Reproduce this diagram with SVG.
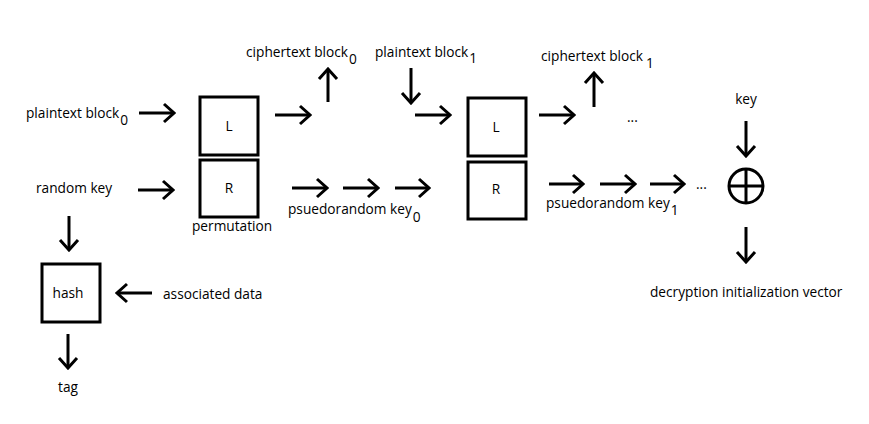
<svg xmlns="http://www.w3.org/2000/svg" width="869" height="424" viewBox="0 0 869 424">
<style>
text{font-family:"Open Sans","Noto Sans","DejaVu Sans",sans-serif;font-size:13.7px;fill:#000}
.box{fill:none;stroke:#000;stroke-width:3}
.ar{fill:none;stroke:#000;stroke-width:3;marker-end:url(#h)}
</style>
<defs>
<marker id="h" markerUnits="userSpaceOnUse" viewBox="0 0 14 22" refX="12" refY="11" markerWidth="14" markerHeight="22" orient="auto">
<path d="M2,2 L12,11 L2,20" fill="none" stroke="#000" stroke-width="3"/>
</marker>
</defs>
<rect width="869" height="424" fill="#fff"/>
<g id="L0"><rect class="box" x="200" y="97" width="58" height="58"/><text x="229" y="131" text-anchor="middle">L</text></g>
<g id="R0"><rect class="box" x="200" y="160" width="58" height="57"/><text x="229" y="193" text-anchor="middle">R</text></g>
<g id="L1"><rect class="box" x="468" y="98" width="58" height="58"/><text x="496" y="132" text-anchor="middle">L</text></g>
<g id="R1"><rect class="box" x="468" y="162" width="58" height="57"/><text x="496" y="194" text-anchor="middle">R</text></g>
<g id="hash"><rect class="box" x="42" y="264" width="58" height="58"/><text x="68" y="298" text-anchor="middle">hash</text></g>
<g id="xor"><circle cx="746" cy="186" r="17" fill="none" stroke="#000" stroke-width="3"/><line x1="729" y1="186" x2="763" y2="186" stroke="#000" stroke-width="3"/><line x1="746" y1="169" x2="746" y2="203" stroke="#000" stroke-width="3"/></g>
<g id="labels">
<text x="26" y="118">plaintext block<tspan dx="1" dy="7">0</tspan></text>
<text x="36" y="193">random key</text>
<text x="192" y="231">permutation</text>
<text x="246" y="57">ciphertext block<tspan dx="1" dy="7">0</tspan></text>
<text x="375" y="57">plaintext block<tspan dx="1" dy="6">1</tspan></text>
<text x="541" y="61">ciphertext block<tspan dx="3" dy="7">1</tspan></text>
<text x="627" y="122">...</text>
<text x="288" y="214">psuedorandom key<tspan dx="1" dy="8">0</tspan></text>
<text x="546" y="208">psuedorandom key<tspan dx="1" dy="7">1</tspan></text>
<text x="696" y="189">...</text>
<text x="746" y="104" text-anchor="middle">key</text>
<text x="650" y="297">decryption initialization vector</text>
<text x="163" y="299">associated data</text>
<text x="68" y="392" text-anchor="middle">tag</text>
</g>
<g id="connectors">
<line class="ar" x1="139" y1="113" x2="174" y2="113"/>
<line class="ar" x1="138" y1="190" x2="173" y2="190"/>
<line class="ar" x1="275" y1="115" x2="310" y2="115"/>
<line class="ar" x1="328" y1="102" x2="328" y2="69"/>
<line class="ar" x1="411" y1="68" x2="411" y2="103"/>
<line class="ar" x1="415" y1="115" x2="450" y2="115"/>
<line class="ar" x1="292" y1="188" x2="327" y2="188"/>
<line class="ar" x1="343" y1="188" x2="378" y2="188"/>
<line class="ar" x1="395" y1="188" x2="429" y2="188"/>
<line class="ar" x1="539" y1="115" x2="574" y2="115"/>
<line class="ar" x1="594" y1="107" x2="594" y2="73"/>
<line class="ar" x1="549" y1="184" x2="583" y2="184"/>
<line class="ar" x1="600" y1="184" x2="635" y2="184"/>
<line class="ar" x1="650" y1="184" x2="684" y2="184"/>
<line class="ar" x1="746" y1="121" x2="746" y2="156"/>
<line class="ar" x1="746" y1="227" x2="746" y2="262"/>
<line class="ar" x1="69" y1="216" x2="69" y2="250"/>
<line class="ar" x1="152" y1="293" x2="117" y2="293"/>
<line class="ar" x1="68" y1="334" x2="68" y2="368"/>
</g>
</svg>
